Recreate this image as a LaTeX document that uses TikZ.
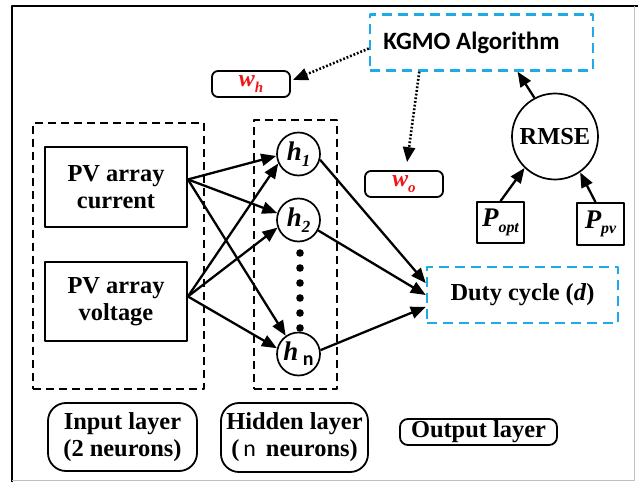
\documentclass[tikz,border=0pt]{standalone}
\usepackage{fontspec}
\setmainfont{Liberation Serif}
\newfontfamily\kgsans{Carlito}
\usetikzlibrary{arrows.meta,calc}

\definecolor{dashblue}{RGB}{30,170,230}
\definecolor{wred}{RGB}{240,20,20}

% subscript helper for italic labels
\newcommand{\lowsub}[2][17]{\raisebox{-5.5bp}{\fontsize{#1}{#1}\selectfont\itshape #2}}

\begin{document}
\begin{tikzpicture}[x=1bp,y=-1bp, line join=round,
  base/.style={font=\fontsize{24.5}{27}\selectfont\bfseries, inner sep=0pt, align=center},
  plainbox/.style={base, draw, line width=1.8bp},
  groupbox/.style={draw, line width=1.8bp, dash pattern=on 8bp off 5bp, inner sep=0pt},
  cyanbox/.style={base, draw=dashblue, line width=2.4bp, dash pattern=on 10bp off 6bp},
  neuron/.style={base, circle, draw, line width=1.7bp, minimum size=43bp},
  tagbox/.style={base, draw, line width=1.8bp, rounded corners=#1},
  link/.style={line width=2.3bp, -{Triangle[length=15bp,width=12bp]}},
  dotlink/.style={line width=2.6bp, dash pattern=on 1.8bp off 1.9bp, -{Triangle[length=15bp,width=12bp]}},
]
\useasboundingbox (0,0) rectangle (638,482);

% page frame
\draw[line width=2bp] (12,482) -- (12,6) -- (638,6);
\draw[black!25, line width=1bp] (634,6) -- (634,480.5) -- (12,480.5);

% layer groups
\node[groupbox, minimum width=171bp, minimum height=266bp] (ingroup) at (118.5,256) {};
\node[groupbox, minimum width=83bp, minimum height=269bp] (hidgroup) at (295.5,254.5) {};

% optimiser and its outputs
\node[cyanbox, minimum width=223bp, minimum height=56bp,
      font=\kgsans\fontsize{25}{27}\selectfont\bfseries] (kgmo) at (481.5,42.5)
      {\hspace*{-20bp}KGMO Algorithm};
\node[tagbox=6bp, minimum width=78bp, minimum height=26bp, text=wred] (wh) at (251,84)
      {\fontsize{24}{24}\selectfont\itshape w\lowsub[15]{h}};
\node[tagbox=6bp, minimum width=78bp, minimum height=26bp, text=wred] (wo) at (404,184)
      {\fontsize{24}{24}\selectfont\itshape w\lowsub[15]{o}};

% inputs
\node[plainbox, minimum width=142bp, minimum height=80bp] (cur) at (116,187) {PV array\\current};
\node[plainbox, minimum width=142bp, minimum height=79bp] (vol) at (116,301.5) {PV array\\voltage};

% hidden neurons
\node[neuron, font=\fontsize{27}{27}\selectfont\bfseries] (h1) at (298.5,154) {\itshape h\lowsub{1}};
\node[neuron, font=\fontsize{27}{27}\selectfont\bfseries] (h2) at (298.5,220) {\itshape h\lowsub{2}};
\node[neuron, font=\fontsize{27}{27}\selectfont\bfseries] (hn) at (298.5,354)
      {\itshape h\,\raisebox{-5bp}{\kgsans\upshape\fontsize{20}{20}\selectfont n}};
\foreach \yy in {253,268,283,298,313,328}
  \fill (300,\yy) circle (3.8bp);

% output
\node[cyanbox, minimum width=191bp, minimum height=56bp] (duty) at (522.5,295)
      {Duty cycle (\textit{d})};

% error measure
\node[neuron, minimum size=86bp] (rmse) at (555,136.5) {RMSE};
\node[plainbox, minimum width=47bp, minimum height=41bp, font=\fontsize{27}{27}\selectfont\bfseries]
      (popt) at (500.5,222.5) {\itshape P\lowsub[16]{opt}};
\node[plainbox, minimum width=47bp, minimum height=42bp, font=\fontsize{27}{27}\selectfont\bfseries]
      (ppv) at (600.5,224) {\itshape P\lowsub[16]{pv}};

% layer captions
\node[tagbox=18bp, minimum width=149bp, minimum height=68bp] (inlab) at (122.5,437)
      {Input layer\\(2 neurons)};
\node[tagbox=18bp, minimum width=147bp, minimum height=69bp] (hidlab) at (294.5,437.5)
      {Hidden layer\\({\kgsans\mdseries\fontsize{24}{24}\selectfont\,n}\hspace{10bp}neurons)};
\node[tagbox=8bp, minimum width=157bp, minimum height=26bp] (outlab) at (478.5,432)
      {Output layer};

% input -> hidden
\draw[link] (cur.6) -- (h1.185);
\draw[link] (cur.6) -- (h2.162);
\draw[link] (cur.6) -- (hn.125);
\draw[link] (vol.4) -- (h1.205);
\draw[link] (vol.4) -- (h2.200);
\draw[link] (vol.4) -- (hn.165);

% hidden -> output
\draw[link] (h1.-15) -- (duty.173);
\draw[link] (h2.-28) -- (duty.west);
\draw[link] (hn.10) -- (duty.187);

% error feedback to the optimiser
\draw[link] (popt.north) -- (rmse.226);
\draw[link] ($(ppv.north)+(-5,0)$) -- (rmse.305);
\draw[link] (rmse.118) -- ($(kgmo.south west)!0.66!(kgmo.south east)$);

% weight updates
\draw[dotlink] ($(kgmo.west)+(0,6)$) -- ($(wh.east)+(2,-4)$);
\draw[dotlink, shorten >=8bp] ($(kgmo.south west)!0.224!(kgmo.south east)$) -- ($(wo.north)+(2,0)$);
\end{tikzpicture}
\end{document}
